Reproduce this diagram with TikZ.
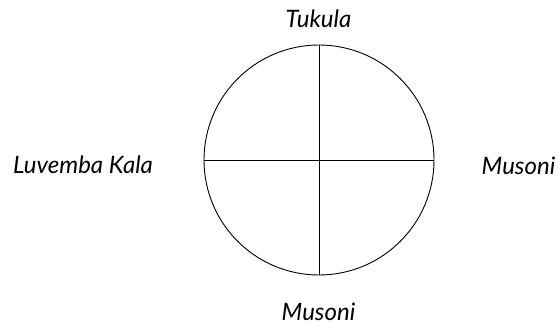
\documentclass[tikz,border=0pt]{standalone}
\usepackage{fontspec}
\setmainfont{Lato}
\usetikzlibrary{positioning}

\begin{document}
\begin{tikzpicture}[
    x=1pt, y=1pt,
    lbl/.style={font=\fontsize{24}{28}\selectfont\itshape, inner sep=0pt, anchor=base},
    ring/.style={draw=black, line width=0.9pt}
]
\useasboundingbox (0,0) rectangle (560,327);

% Circle and cross
\node[ring, circle, minimum size=230pt, inner sep=0pt] (disc) at (319,167) {};
\draw[ring] (disc.north) -- (disc.south);
\draw[ring] (disc.west) -- (disc.east);

% Labels
\node[lbl] (top) at (318.5,299) {Tukula};
\node[lbl] (bottom) at (318.5,7) {Musoni};
\node[lbl] (left) at (83,153) {Luvemba Kala};
\node[lbl] (right) at (518.5,152) {Musoni};

\end{tikzpicture}
\end{document}
